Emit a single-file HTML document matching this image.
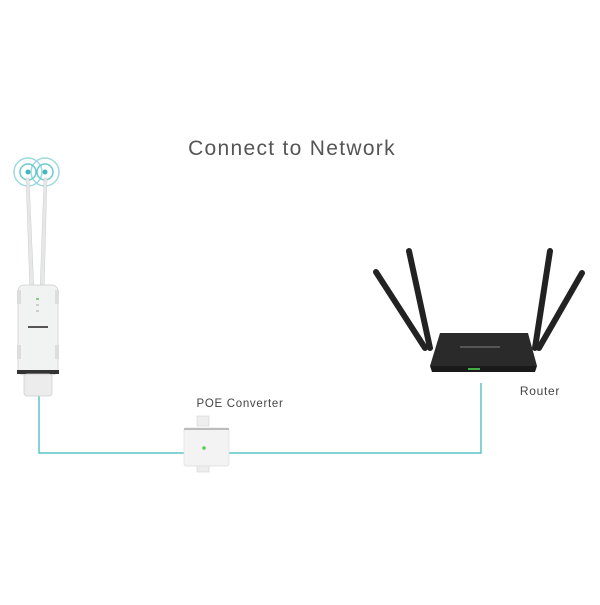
<!DOCTYPE html>
<html><head><style>
body{margin:0;background:#fff;width:600px;height:600px;overflow:hidden;font-family:"Liberation Sans",sans-serif}
</style></head><body>
<svg width="600" height="600" xmlns="http://www.w3.org/2000/svg">
<rect width="600" height="600" fill="#fff"/>
<text x="292" y="155" font-size="21" fill="#555" text-anchor="middle" font-family="Liberation Sans, sans-serif" letter-spacing="1.3">Connect to Network</text>
<text x="240" y="407" font-size="11.5" fill="#444" text-anchor="middle" letter-spacing="0.7">POE Converter</text>
<text x="540" y="395" font-size="12" fill="#444" text-anchor="middle" letter-spacing="0.7">Router</text>
<polyline points="39,395 39,453 481,453 481,383" fill="none" stroke="#5cc2c8" stroke-width="1.5"/>
<g fill="none" stroke="#9fd9dc" stroke-width="1.5">
<circle cx="28" cy="172" r="14"/><circle cx="45" cy="172" r="14"/>
<circle cx="28" cy="172" r="8" stroke="#6cc9cf"/><circle cx="45" cy="172" r="8" stroke="#6cc9cf"/>
</g>
<circle cx="28" cy="172" r="2.5" fill="#3fb8c0"/><circle cx="45" cy="172" r="2.5" fill="#3fb8c0"/>
<path d="M26,178 L29,178 L34,292 L30,292Z" fill="#e6e8e8" stroke="#ccc" stroke-width="0.5"/>
<path d="M44,178 L47,178 L44,292 L40,292Z" fill="#e6e8e8" stroke="#ccc" stroke-width="0.5"/>
<rect x="18" y="285" width="40" height="90" rx="6" fill="#f1f2f2" stroke="#ccc" stroke-width="0.7"/>
<rect x="17" y="290" width="4" height="14" fill="#ddd"/><rect x="55" y="290" width="4" height="14" fill="#ddd"/>
<rect x="17" y="345" width="4" height="14" fill="#ddd"/><rect x="55" y="345" width="4" height="14" fill="#ddd"/>
<rect x="28" y="326" width="20" height="2" fill="#555"/>
<rect x="36" y="298" width="3" height="2" fill="#8c8"/><rect x="36" y="304" width="3" height="2" fill="#ccc"/><rect x="36" y="310" width="3" height="2" fill="#ccc"/>
<rect x="17" y="370" width="42" height="4" fill="#333"/>
<rect x="24" y="374" width="28" height="22" rx="3" fill="#ececec" stroke="#ccc" stroke-width="0.7"/>
<rect x="197" y="416" width="12" height="10" fill="#eee" stroke="#ccc" stroke-width="0.5"/>
<rect x="197" y="464" width="12" height="8" fill="#eee" stroke="#ccc" stroke-width="0.5"/>
<rect x="184" y="428" width="45" height="38" rx="2" fill="#f3f3f3" stroke="#ddd" stroke-width="0.7"/>
<rect x="184" y="428" width="45" height="2" fill="#bbb"/>
<circle cx="204" cy="448" r="1.8" fill="#5c5"/>
<g stroke="#222" stroke-width="6" stroke-linecap="round">
<line x1="376" y1="272" x2="425" y2="348"/>
<line x1="409" y1="251" x2="430" y2="348"/>
<line x1="550" y1="251" x2="535" y2="348"/>
<line x1="582" y1="273" x2="539" y2="348"/>
</g>
<path d="M440,333 L528,333 L537,366 L430,366 Z" fill="#2a2a2a"/>
<path d="M430,366 L537,366 L535,372 L432,372Z" fill="#1a1a1a"/>
<rect x="460" y="346" width="40" height="2" fill="#555"/>
<rect x="468" y="368" width="12" height="2" fill="#4a4"/>
</svg>
</body></html>
